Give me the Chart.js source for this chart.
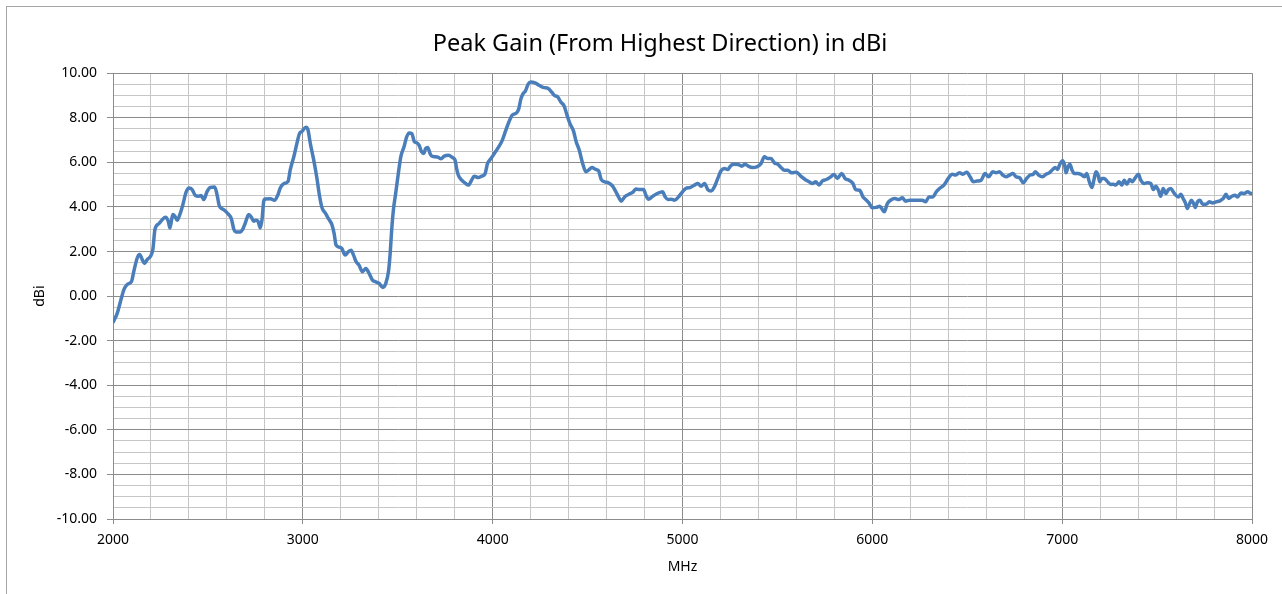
<!DOCTYPE html>
<html>
<head>
<meta charset="utf-8">
<script src="https://cdn.jsdelivr.net/npm/chart.js@4.4.1/dist/chart.umd.min.js"></script>
<style>
  html, body { margin: 0; padding: 0; background: #ffffff; overflow: hidden; }
  #wrap { position: relative; width: 1282px; height: 594px; }
  #frame { position: absolute; left: 6px; top: 6px; width: 1300px; height: 620px; border: 1.5px solid #a6a6a6; box-sizing: border-box; pointer-events: none; }
  canvas { position: absolute; left: 0; top: 0; }
</style>
</head>
<body>
<div id="wrap">
  <canvas id="c" width="1282" height="594"></canvas>
  <div id="frame"></div>
</div>
<script>
const chartTitle = "Peak Gain (From Highest Direction) in dBi";
const xAxisTitle = "MHz";
const yAxisTitle = "dBi";

const freqMHz = [
  2000,2023,2040,2058,2075,2098,2110,2128,2140,2154,2166,2180,2198,2210,2221,2242,2259,2277,2291,2300,
  2315,2326,2338,2352,2368,2385,2401,2417,2434,2452,2464,2478,2496,2513,2536,2548,2561,2583,2606,2624,
  2636,2648,2671,2683,2697,2715,2729,2741,2753,2764,2776,2785,2794,2802,2829,2851,2869,2881,2899,2922,
  2934,2953,2970,2982,2996,3017,3027,3039,3057,3074,3087,3101,3118,3136,3153,3165,3175,3190,3205,3223,
  3240,3254,3267,3281,3296,3314,3332,3349,3367,3384,3402,3421,3437,3451,3460,3468,3477,3489,3503,3516,
  3533,3547,3560,3574,3588,3600,3612,3626,3637,3647,3658,3670,3679,3696,3714,3728,3745,3767,3788,3802,
  3810,3819,3837,3858,3872,3889,3903,3924,3942,3959,3973,3991,4009,4030,4051,4068,4086,4103,4126,4138,
  4149,4161,4173,4187,4201,4223,4244,4266,4293,4310,4324,4342,4359,4377,4389,4407,4426,4439,4456,4474,
  4491,4505,4523,4544,4558,4572,4589,4610,4632,4649,4663,4677,4695,4716,4737,4754,4772,4795,4807,4821,
  4839,4860,4882,4895,4909,4923,4940,4958,4979,5000,5017,5040,5063,5081,5098,5116,5133,5151,5168,5186,
  5203,5221,5238,5256,5273,5295,5312,5330,5347,5368,5391,5414,5431,5449,5466,5484,5501,5519,5537,5554,
  5575,5600,5623,5646,5667,5684,5702,5719,5737,5758,5781,5798,5816,5839,5856,5877,5898,5912,5933,5951,
  5965,5982,6000,6021,6039,6053,6063,6079,6096,6119,6140,6158,6175,6196,6219,6242,6263,6281,6298,6319,
  6337,6354,6377,6400,6421,6438,6459,6477,6498,6515,6533,6551,6573,6594,6612,6635,6652,6670,6687,6705,
  6723,6740,6758,6776,6795,6813,6831,6848,6859,6876,6897,6915,6932,6950,6964,6976,6988,7002,7013,7020,
  7032,7041,7052,7064,7082,7099,7117,7129,7143,7157,7167,7178,7189,7198,7209,7222,7239,7257,7269,7283,
  7300,7314,7327,7341,7356,7369,7383,7402,7414,7432,7449,7467,7480,7493,7507,7519,7532,7546,7560,7572,
  7585,7598,7612,7625,7637,7649,7659,7670,7680,7691,7701,7713,7726,7740,7758,7775,7793,7810,7831,7849,
  7863,7877,7894,7912,7924,7942,7959,7977,7994,8000
];

const gainDBi = [
  -1.19,-0.75,-0.22,0.30,0.52,0.67,1.12,1.72,1.87,1.64,1.46,1.64,1.79,2.09,2.99,3.25,3.43,3.54,3.36,3.06,
  3.66,3.58,3.40,3.66,4.10,4.66,4.85,4.78,4.51,4.48,4.51,4.33,4.70,4.88,4.90,4.55,4.03,3.88,3.69,3.46,
  3.01,2.88,2.88,2.99,3.28,3.66,3.54,3.36,3.40,3.36,3.06,3.43,4.25,4.36,4.37,4.30,4.55,4.85,5.04,5.15,
  5.67,6.27,6.90,7.28,7.39,7.58,7.46,6.87,6.12,5.30,4.55,3.96,3.73,3.46,3.21,2.80,2.29,2.20,2.14,1.84,
  1.99,2.06,1.84,1.54,1.39,1.09,1.24,1.02,0.72,0.64,0.57,0.39,0.57,1.09,1.91,2.96,3.86,4.60,5.50,6.25,
  6.70,7.14,7.32,7.29,6.92,6.88,6.77,6.47,6.40,6.62,6.67,6.40,6.28,6.25,6.22,6.16,6.28,6.32,6.22,6.10,
  5.72,5.43,5.20,5.05,4.98,5.20,5.38,5.32,5.38,5.47,5.95,6.17,6.40,6.67,7.00,7.41,7.82,8.12,8.22,8.42,
  8.86,9.09,9.21,9.51,9.61,9.57,9.46,9.36,9.31,9.16,9.01,8.94,8.71,8.52,8.19,7.74,7.40,6.95,6.55,5.95,
  5.58,5.65,5.77,5.68,5.62,5.23,5.13,5.08,4.93,4.68,4.45,4.26,4.45,4.56,4.65,4.80,4.78,4.78,4.53,4.35,
  4.45,4.57,4.65,4.68,4.45,4.33,4.35,4.30,4.45,4.68,4.83,4.87,4.98,5.05,4.93,5.05,4.78,4.72,4.90,5.28,
  5.62,5.73,5.68,5.87,5.92,5.90,5.83,5.92,5.83,5.77,5.80,5.95,6.25,6.17,6.17,5.98,5.92,5.77,5.65,5.65,
  5.53,5.56,5.38,5.23,5.13,5.05,5.13,4.98,5.17,5.23,5.35,5.46,5.28,5.50,5.28,5.20,5.05,4.78,4.75,4.45,
  4.33,4.18,3.96,3.98,4.03,3.88,3.78,4.15,4.30,4.38,4.33,4.41,4.26,4.30,4.30,4.30,4.30,4.23,4.45,4.45,
  4.68,4.83,4.98,5.28,5.47,5.43,5.53,5.47,5.56,5.35,5.13,5.16,5.20,5.50,5.35,5.58,5.53,5.58,5.43,5.35,
  5.43,5.50,5.35,5.31,5.08,5.28,5.43,5.47,5.58,5.43,5.35,5.47,5.53,5.68,5.77,5.68,5.92,6.07,5.87,5.53,
  5.83,5.92,5.65,5.50,5.50,5.46,5.35,5.50,5.13,4.87,5.20,5.58,5.43,5.13,5.28,5.28,5.13,5.01,5.02,4.98,
  5.13,4.98,5.20,5.02,5.23,5.13,5.28,5.47,5.20,5.05,5.08,5.05,4.78,4.93,4.75,4.48,4.83,4.60,4.78,4.83,
  4.68,4.53,4.45,4.57,4.38,4.18,3.93,4.12,4.30,4.18,3.98,4.23,4.30,4.12,4.12,4.23,4.18,4.23,4.27,4.38,
  4.57,4.38,4.48,4.53,4.45,4.63,4.60,4.68,4.60,4.60
];

const xMin = 2000, xMax = 8000, xMinorStep = 200, xMajorStep = 1000;
const yMin = -10, yMax = 10, yMinorStep = 0.5, yMajorStep = 2;

const points = freqMHz.map((f, i) => ({ x: f, y: gainDBi[i] }));

const FONT = "'Noto Sans', 'Open Sans', sans-serif";
const majorColor = '#8c8c8c';
const minorColor = '#c6c6c6';

const isMajor = (v, step) => Math.abs(v / step - Math.round(v / step)) < 1e-6;

// shift the title block so it is centred where the reference places it
const titleShift = {
  id: 'titleShift',
  afterLayout(chart) {
    const t = chart.titleBlock;
    if (t) { t.left = 68; t.right = chart.chartArea.right; }
  }
};

new Chart(document.getElementById('c'), {
  type: 'line',
  data: {
    datasets: [{
      data: points,
      borderColor: '#4a7ebb',
      borderWidth: 3.5,
      pointRadius: 0,
      fill: false,
      cubicInterpolationMode: 'monotone',
      tension: 0.3
    }]
  },
  plugins: [titleShift],
  options: {
    responsive: false,
    animation: false,
    events: [],
    layout: { padding: { left: 0, right: 30, top: 0, bottom: 0 } },
    plugins: {
      legend: { display: false },
      tooltip: { enabled: false },
      title: {
        display: true,
        text: chartTitle,
        color: '#000',
        font: { family: FONT, size: 23.5, weight: 'normal' },
        padding: { top: 30, bottom: 15 }
      }
    },
    scales: {
      x: {
        type: 'linear',
        min: xMin, max: xMax,
        afterFit: (s) => { s.height = 75; },
        ticks: {
          stepSize: xMinorStep,
          autoSkip: false,
          maxRotation: 0,
          color: '#000',
          padding: 8,
          font: { family: FONT, size: 14 },
          callback: (v) => isMajor(v, xMajorStep) ? String(v) : ''
        },
        grid: {
          color: (ctx) => isMajor(ctx.tick.value, xMajorStep) ? majorColor : minorColor,
          tickColor: (ctx) => isMajor(ctx.tick.value, xMajorStep) ? majorColor : 'rgba(0,0,0,0)',
          tickLength: 5,
          lineWidth: 1
        },
        border: { color: majorColor, width: 1 },
        title: {
          display: true, text: xAxisTitle, color: '#000',
          font: { family: FONT, size: 14 },
          padding: { top: 4, bottom: 19 }
        }
      },
      y: {
        type: 'linear',
        min: yMin, max: yMax,
        afterFit: (s) => { s.width = 113; },
        ticks: {
          stepSize: yMinorStep,
          autoSkip: false,
          color: '#000',
          padding: 10,
          font: { family: FONT, size: 14 },
          callback: (v) => isMajor(v, yMajorStep) ? (Math.abs(v) < 1e-9 ? 0 : v).toFixed(2) : ''
        },
        grid: {
          color: (ctx) => isMajor(ctx.tick.value, yMajorStep) ? majorColor : minorColor,
          tickColor: (ctx) => isMajor(ctx.tick.value, yMajorStep) ? majorColor : 'rgba(0,0,0,0)',
          tickLength: 6,
          lineWidth: 1
        },
        border: { color: majorColor, width: 1 },
        title: {
          display: true, text: yAxisTitle, color: '#000',
          font: { family: FONT, size: 14 },
          padding: { top: 32, bottom: 0 }
        }
      }
    }
  }
});
</script>
</body>
</html>
